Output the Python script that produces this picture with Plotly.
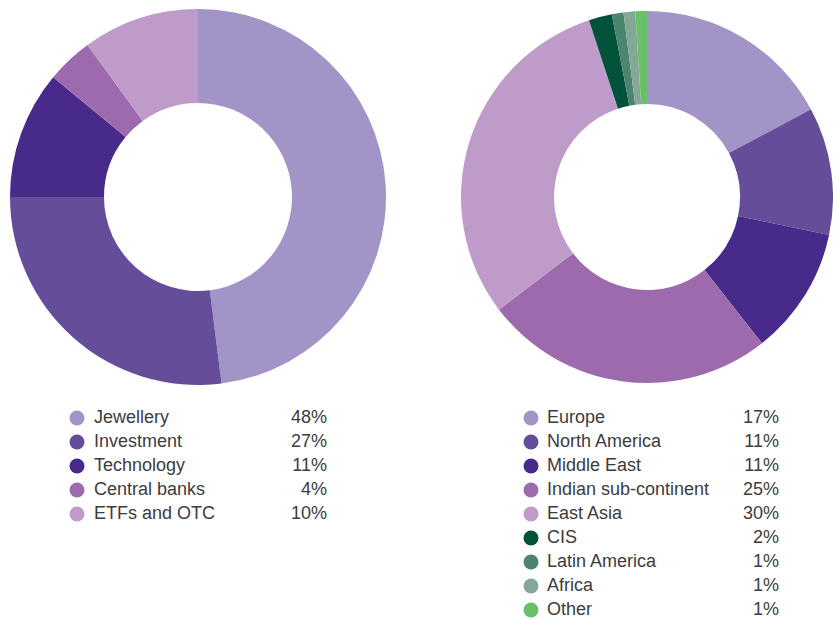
import plotly.graph_objects as go

# ---- data ----
uses_labels = ["Jewellery", "Investment", "Technology", "Central banks", "ETFs and OTC"]
uses_values = [48, 27, 11, 4, 10]
uses_colors = ["#A294C6", "#654D9A", "#472A89", "#9D6BAD", "#BF9BC9"]

region_labels = ["Europe", "North America", "Middle East", "Indian sub-continent", "East Asia",
                 "CIS", "Latin America", "Africa", "Other"]
region_values = [17, 11, 11, 25, 30, 2, 1, 1, 1]
region_colors = ["#A294C6", "#654D9A", "#472A89", "#9D6BAD", "#BF9BC9",
                 "#00533A", "#4C8470", "#84A898", "#6ABF69"]

W, H = 833, 619
fig = go.Figure()

def px_dom(x0, x1, y0, y1):
    return dict(x=[max(0, x0 / W), min(1, x1 / W)], y=[(H - y1) / H, (H - y0) / H])

fig.add_trace(go.Pie(labels=uses_labels, values=uses_values, hole=0.5, sort=False,
                     direction="clockwise", rotation=0,
                     marker=dict(colors=uses_colors, line=dict(width=0)),
                     textinfo="none", hoverinfo="label+value", showlegend=False,
                     domain=px_dom(10, 386, 9, 385)))
fig.add_trace(go.Pie(labels=region_labels, values=region_values, hole=0.5, sort=False,
                     direction="clockwise", rotation=0,
                     marker=dict(colors=region_colors, line=dict(width=0)),
                     textinfo="none", hoverinfo="label+value", showlegend=False,
                     domain=px_dom(461, 835, 9, 385)))

# ---- custom legends ----
font = dict(family="Liberation Sans, Arial, sans-serif", size=18, color="#3c3c3c")

def legend(labels, values, colors, mx, tx, px, y0, dy):
    ys = [y0 + i * dy for i in range(len(labels))]
    fig.add_trace(go.Scatter(x=[mx] * len(labels), y=ys, mode="markers",
                             marker=dict(size=15, color=colors, line=dict(width=0)),
                             hoverinfo="skip", showlegend=False))
    fig.add_trace(go.Scatter(x=[tx] * len(labels), y=ys, mode="text", text=labels,
                             textposition="middle right", textfont=font,
                             hoverinfo="skip", showlegend=False))
    fig.add_trace(go.Scatter(x=[px] * len(labels), y=ys, mode="text",
                             text=[f"{v}%" for v in values],
                             textposition="middle left", textfont=font,
                             hoverinfo="skip", showlegend=False))

legend(uses_labels, uses_values, uses_colors, 77, 94, 327, 418, 24)
legend(region_labels, region_values, region_colors, 531, 547, 779, 418, 24)

fig.update_layout(
    width=W, height=H, margin=dict(l=0, r=0, t=0, b=0),
    paper_bgcolor="white", plot_bgcolor="rgba(0,0,0,0)",
    xaxis=dict(range=[0, W], visible=False, fixedrange=True),
    yaxis=dict(range=[H, 0], visible=False, fixedrange=True),
)
fig.write_html("out.html", config={"displayModeBar": False},
               post_script="document.body.style.margin='0';document.body.style.overflow='hidden';")
